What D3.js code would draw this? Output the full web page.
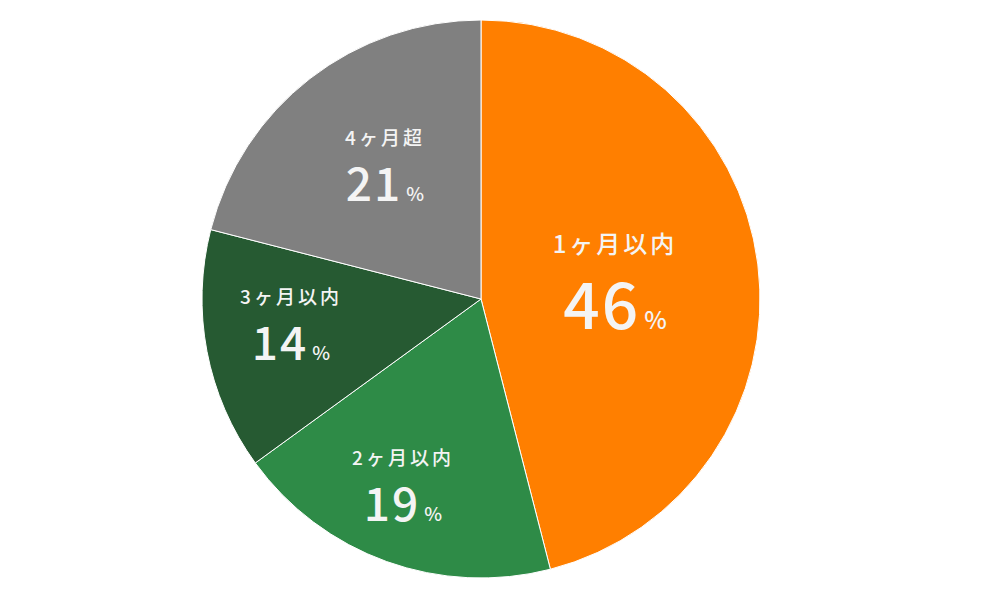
<!DOCTYPE html>
<html><head><meta charset="utf-8">
<script src="https://cdn.jsdelivr.net/npm/d3@7"></script>
<style>body{margin:0;background:#fff}</style>
</head><body>
<svg id="chart" width="982" height="596"></svg>
<script>
const categories = ['1ヶ月以内', '2ヶ月以内', '3ヶ月以内', '4ヶ月超']
const values = [46, 19, 14, 21]
const colors = ['#FF7F00', '#2E8B47', '#265A32', '#808080']
// label anchor (offset from centre, px) and size
const labelOffsets = [[134, -20], [-78, 186], [-190, 25], [-96, -134]]
const bigSize = [64, 46, 46, 46]
const smallSize = [24, 19, 19, 19]

const W = 982, H = 596, cx = 481, cy = 299, R = 279
const svg = d3.select('#chart')
const g = svg.append('g').attr('transform', `translate(${cx},${cy})`)

const pie = d3.pie().sort(null).value(d => d)
const arc = d3.arc().innerRadius(0).outerRadius(R)
const arcs = pie(values)

g.selectAll('path').data(arcs).enter().append('path')
  .attr('d', arc)
  .attr('fill', (d, i) => colors[i])
  .attr('stroke', '#fff').attr('stroke-width', 1)

const lab = g.selectAll('.lab').data(arcs).enter().append('g')
  .attr('transform', (d, i) => `translate(${labelOffsets[i][0]},${labelOffsets[i][1]})`)
  .attr('fill', '#f4f4f4')
  .attr('font-family', '"Noto Sans CJK JP", "Noto Sans", sans-serif')
  .attr('text-anchor', 'middle')

lab.append('text')
  .attr('y', (d, i) => i == 0 ? -26 : -20)
  .attr('font-size', (d, i) => smallSize[i])
  .attr('font-weight', 500)
  .attr('letter-spacing', 3)
  .text((d, i) => categories[i])

const pct = lab.append('text')
  .attr('y', (d, i) => i == 0 ? 50 : 36)
  .attr('font-weight', 500)
pct.append('tspan').attr('font-size', (d, i) => bigSize[i]).attr('letter-spacing', 2)
  .text(d => d.data)
pct.append('tspan').attr('font-size', (d, i) => smallSize[i]).attr('dx', 4).text('%')
</script>
</body></html>
